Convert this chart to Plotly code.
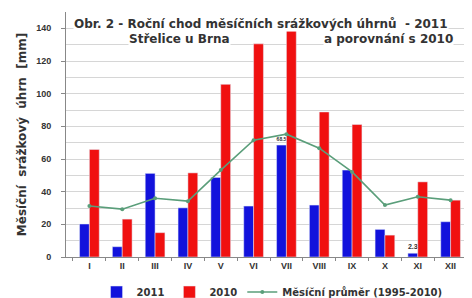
import plotly.graph_objects as go

months = ["I", "II", "III", "IV", "V", "VI", "VII", "VIII", "IX", "X", "XI", "XII"]
rain_2011 = [20.2, 6.3, 51.2, 30.1, 48.7, 31.2, 68.5, 31.8, 53.2, 16.9, 2.3, 21.6]
rain_2010 = [65.8, 23.2, 14.9, 51.5, 105.7, 130.5, 138.5, 88.8, 81.1, 13.4, 46.0, 34.8]
mean_1995_2010 = [31.2, 29.3, 36.0, 34.2, 53.2, 71.5, 75.2, 66.6, 52.1, 31.8, 36.9, 34.8]
labels_2011 = ["", "", "", "", "", "", "68.5", "", "", "", "2.3", ""]

FONT = "Liberation Sans"
WIDE = "DejaVu Sans"

fig = go.Figure()
fig.add_trace(go.Bar(
    x=months, y=rain_2011, name="2011", marker_color="#1212dc",
    text=labels_2011, textposition="outside", cliponaxis=False,
    textfont=dict(size=9, color="#333", family=FONT, weight="bold"),
))
fig.add_trace(go.Bar(
    x=months, y=rain_2010, name="2010", marker_color="#f01010",
))
fig.add_trace(go.Scatter(
    x=months, y=mean_1995_2010, name="Měsíční průměr (1995-2010)",
    mode="lines+markers", line=dict(color="#5a9e7a", width=1.6),
    marker=dict(size=4, color="#5a9e7a"),
))

fig.update_layout(
    width=472, height=298, autosize=False,
    margin=dict(l=58, r=6, t=4, b=49, autoexpand=False),
    paper_bgcolor="white", plot_bgcolor="white",
    barmode="group", bargap=0.4, bargroupgap=0.0,
    font=dict(family=FONT, size=9, color="#333"),
    showlegend=True,
    legend=dict(orientation="h", x=0.505, xanchor="center", y=-0.143, yanchor="middle",
                font=dict(size=10, color="#333", family=WIDE, weight="bold"),
                itemwidth=30, tracegroupgap=0, bgcolor="rgba(0,0,0,0)"),
    annotations=[
        dict(text="Obr. 2 - Roční chod měsíčních srážkových úhrnů  - 2011",
             xref="paper", yref="paper", x=0.017, y=0.951, xanchor="left", yanchor="middle",
             showarrow=False, font=dict(size=12, color="#333", family=WIDE, weight="bold"),
             bgcolor="white", borderpad=0),
        dict(text="Střelice u Brna",
             xref="paper", yref="paper", x=0.153, y=0.89, xanchor="left", yanchor="middle",
             showarrow=False, font=dict(size=12, color="#333", family=WIDE, weight="bold"),
             bgcolor="white", borderpad=0),
        dict(text="a porovnání s 2010",
             xref="paper", yref="paper", x=0.951, y=0.89, xanchor="right", yanchor="middle",
             showarrow=False, font=dict(size=12, color="#333", family=WIDE, weight="bold"),
             bgcolor="white", borderpad=0),
    ],
)
fig.update_xaxes(
    tickson="boundaries", ticks="outside", ticklen=3, tickcolor="#888",
    showline=True, linecolor="#888", linewidth=1,
    tickfont=dict(size=9, color="#333", weight="bold"), showgrid=False,
)
fig.update_yaxes(
    range=[0, 150], dtick=20, tick0=0, ticks="outside", ticklen=4, tickcolor="#888",
    showline=True, linecolor="#888", linewidth=1, automargin=False,
    showgrid=True, gridcolor="#d6d6d6", gridwidth=1,
    minor=dict(dtick=10, showgrid=True, gridcolor="#d6d6d6", ticks=""),
    tickfont=dict(size=9, color="#333", weight="bold"), zeroline=False,
    ticklabelstandoff=8,
    title=dict(text="Měsíční  srážkový  úhrn  [mm]",
               font=dict(size=12, color="#333", family=WIDE, weight="bold"), standoff=6),
)

fig.write_html("out.html")
